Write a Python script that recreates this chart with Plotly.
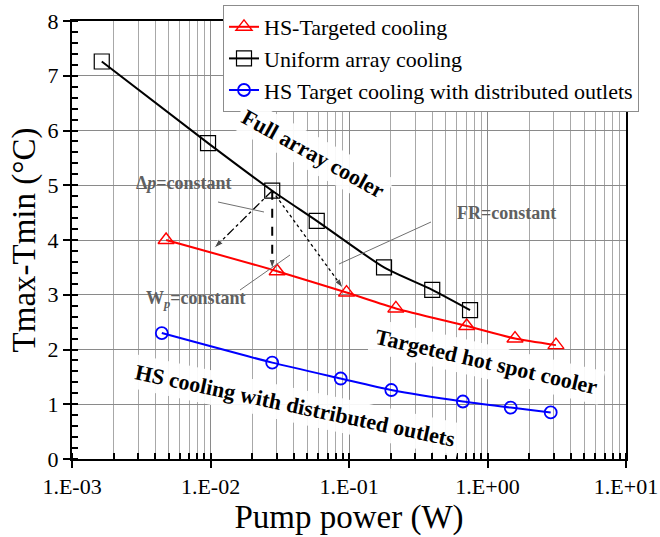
import plotly.graph_objects as go

# Pump power (W) and temperature non-uniformity Tmax-Tmin (°C)
targeted_power = [0.00478, 0.0303, 0.096, 0.218, 0.708, 1.58, 3.12]
targeted_dt = [4.00, 3.43, 3.04, 2.75, 2.43, 2.20, 2.08]

uniform_power = [0.00164, 0.0096, 0.0279, 0.0585, 0.179, 0.399, 0.748]
uniform_dt = [7.26, 5.77, 4.90, 4.35, 3.50, 3.09, 2.72]

outlets_power = [0.00445, 0.0279, 0.0871, 0.202, 0.664, 1.47, 2.86]
outlets_dt = [2.30, 1.76, 1.47, 1.26, 1.05, 0.94, 0.85]

x_tickvals = [1e-3, 1e-2, 1e-1, 1e0, 1e1]
x_ticktext = ["1.E-03", "1.E-02", "1.E-01", "1.E+00", "1.E+01"]

# Operating-point transitions from the full-array cooler
arrow_ends = [(0.0106, 3.85), (0.0279, 3.47), (0.0906, 3.12)]
arrow_dash = ["dashdot", "dash", "dot"]
arrow_width = [1.3, 2.0, 1.3]

SERIF = "Liberation Serif, Times New Roman, serif"

# plot area in pixels (for paper-referenced annotation helpers)
L, R, T, B = 72, 626, 21, 459
W, H = 660, 537


def px(x, y):
    return (x - L) / (R - L), (B - y) / (B - T)


fig = go.Figure()

fig.add_trace(go.Scatter(
    x=targeted_power, y=targeted_dt, name="HS-Targeted cooling",
    mode="lines+markers", line=dict(color="#ff0000", width=2, shape="spline", smoothing=0.6),
    marker=dict(symbol="triangle-up-open", size=14, color="#ff0000", line=dict(width=1.4)),
))
fig.add_trace(go.Scatter(
    x=uniform_power, y=uniform_dt, name="Uniform array cooling",
    mode="lines+markers", line=dict(color="#000000", width=2, shape="spline", smoothing=0.6),
    marker=dict(symbol="square-open", size=15, color="#000000", line=dict(width=1.2)),
))
fig.add_trace(go.Scatter(
    x=outlets_power, y=outlets_dt, name="HS Target cooling with distributed outlets",
    mode="lines+markers", line=dict(color="#0000ff", width=2, shape="spline", smoothing=0.6),
    marker=dict(symbol="circle-open", size=12, color="#0000ff", line=dict(width=1.8)),
))

start = (uniform_power[2], uniform_dt[2])
for end, dash, w in zip(arrow_ends, arrow_dash, arrow_width):
    fig.add_trace(go.Scatter(
        x=[start[0], end[0]], y=[start[1], end[1]], mode="lines+markers",
        line=dict(color="#000000", width=w, dash=dash),
        marker=dict(symbol="arrow", size=[0, 10], color="#000000", angleref="previous"),
        showlegend=False, hoverinfo="skip",
    ))

# leader lines for the constant-condition labels
leaders = [((218, 202), (264, 212)), ((240, 290), (290, 255)), ((339, 264), (431, 222))]
shapes = []
for (a, b) in leaders:
    x0, y0 = px(*a)
    x1, y1 = px(*b)
    shapes.append(dict(type="line", xref="paper", yref="paper", x0=x0, y0=y0, x1=x1, y1=y1,
                       line=dict(color="#707070", width=1)))

annotations = []


def label(text, cx, cy, size, angle=0, color="#000000", bg=None):
    x, y = px(cx, cy)
    annotations.append(dict(
        text=text, x=x, y=y, xref="paper", yref="paper", showarrow=False,
        xanchor="center", yanchor="middle",
        textangle=angle, font=dict(family=SERIF, size=size, color=color),
        bgcolor=bg, borderpad=4,
    ))


label("<b>Full array cooler</b>", 313, 153, 22, 29, bg="rgba(255,255,255,0.92)")
label("<b>Targeted hot spot cooler</b>", 486, 361, 22, 13, bg="rgba(255,255,255,0.92)")
label("<b>HS cooling with distributed outlets</b>", 295, 405, 22, 12, bg="rgba(255,255,255,0.92)")
label("<b>Δ<i>p</i>=constant</b>", 184, 183, 18, color="#606060")
label("<b>W<sub><i>p</i></sub>=constant</b>", 196, 299, 18, color="#606060")
label("<b>FR=constant</b>", 507, 213, 18, color="#606060")

fig.update_layout(
    width=W, height=H,
    margin=dict(l=L, r=W - R, t=T, b=H - B, autoexpand=False),
    plot_bgcolor="#ffffff", paper_bgcolor="#ffffff",
    font=dict(family=SERIF, size=22, color="#000000"),
    shapes=shapes, annotations=annotations,
    legend=dict(
        x=px(223, 0)[0], y=px(0, 5)[1], xanchor="left", yanchor="top",
        bgcolor="#ffffff", bordercolor="#8c8c8c", borderwidth=1,
        font=dict(family=SERIF, size=22), tracegroupgap=0, itemwidth=30,
    ),
)

fig.update_xaxes(
    type="log", range=[-3, 1], automargin=False,
    tickvals=x_tickvals, ticktext=x_ticktext,
    ticks="outside", ticklen=7, tickcolor="#000000", tickwidth=1.5,
    showline=True, linecolor="#000000", linewidth=2, mirror=True,
    showgrid=True, gridcolor="#8a8a8a", gridwidth=1,
    minor=dict(dtick="D1", ticks="inside", ticklen=6, tickcolor="#000000",
               showgrid=True, gridcolor="#a8a8a8", gridwidth=1),
    title=dict(text="Pump power (W)", font=dict(family=SERIF, size=33), standoff=2),
    tickfont=dict(family=SERIF, size=22),
    zeroline=False,
)
fig.update_yaxes(
    range=[0, 8], dtick=1, automargin=False,
    ticks="outside", ticklen=7, tickcolor="#000000", tickwidth=1.5,
    showline=True, linecolor="#000000", linewidth=2, mirror=True,
    showgrid=True, gridcolor="#8a8a8a", gridwidth=1,
    minor=dict(dtick=0.2, ticks="inside", ticklen=6, tickcolor="#000000", showgrid=False),
    title=dict(text="Tmax-Tmin (°C)", font=dict(family=SERIF, size=33), standoff=2),
    tickfont=dict(family=SERIF, size=22),
    zeroline=False,
)

fig.write_html("out.html")
